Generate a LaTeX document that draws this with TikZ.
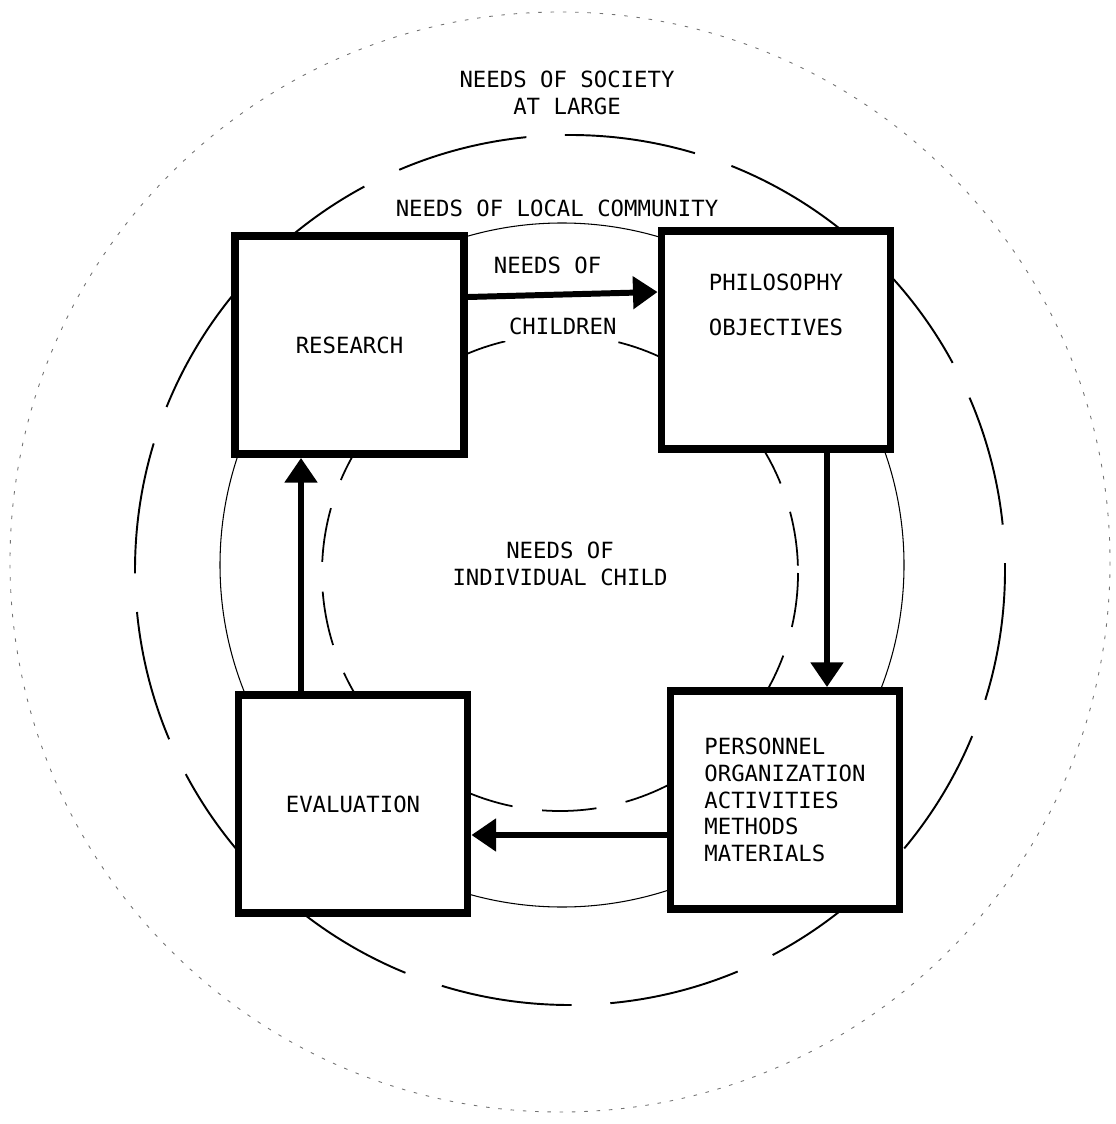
\documentclass[tikz,border=0pt]{standalone}
\usepackage{fontspec}
\usepackage{tikz}
\usetikzlibrary{arrows.meta}
\newfontfamily\diagfont{DejaVu Sans Mono}

\begin{document}
\begin{tikzpicture}[x=0.02cm, y=-0.02cm,
    every node/.style={font=\diagfont\fontsize{12.7}{15.2}\selectfont},
    box/.style={rectangle, draw=black, fill=white, line width=4.5pt, minimum width=4.58cm, minimum height=4.36cm, inner sep=0pt},
    flow/.style={line width=3.4pt, -{Triangle[length=14pt, width=18pt]}},
    societyring/.style={draw=black!55, line width=0.5pt, dash pattern=on 2pt off 5pt},
    communityring/.style={draw=black, line width=1.1pt, dash pattern=on 75pt off 22pt},
    childrenring/.style={draw=black, line width=0.6pt},
    childring/.style={draw=black, line width=1pt, dash pattern=on 31pt off 17pt}]
                \useasboundingbox (0, 0) rectangle (1115, 1124);

                \draw[societyring] (560, 562) circle[radius=550];
                \draw[communityring] (570, 570) circle[radius=435];
                \draw[childrenring] (562, 565) circle[radius=342];
                \draw[childring] (560, 573) circle[radius=238];

                \node[align=center] (society) at (567, 93) {NEEDS OF SOCIETY\\AT LARGE};
                \node (community) at (557, 208) {NEEDS OF LOCAL COMMUNITY};
                \node[align=center] (child) at (560, 564) {NEEDS OF\\INDIVIDUAL CHILD};

                \node[box] (research) at (349.5, 345) {RESEARCH};
                \node[box] (philosophy) at (776, 340) {};
                \node[align=center] (philotext) at (776, 305) {PHILOSOPHY\\[10pt]OBJECTIVES};
                \node[box, align=left] (personnel) at (785, 800) {PERSONNEL\\ORGANIZATION\\ACTIVITIES\\METHODS\\MATERIALS};
                \node[box] (evaluation) at (353, 804) {EVALUATION};

                \draw[flow] ([yshift=0.96cm]research.east) -- node[pos=0.42, above=7pt] {NEEDS OF} node[below=8.5pt, fill=white] {CHILDREN} ([yshift=0.96cm]philosophy.west);
                \draw[flow] ([xshift=1.02cm]philosophy.south) -- ([xshift=1.02cm]philosophy.south |- personnel.north);
                \draw[flow] ([yshift=-0.7cm]personnel.west) -- ([yshift=-0.7cm]personnel.west -| evaluation.east);
                \draw[flow] ([xshift=-1.04cm]evaluation.north) -- ([xshift=-1.04cm]evaluation.north |- research.south);
\end{tikzpicture}
\end{document}
